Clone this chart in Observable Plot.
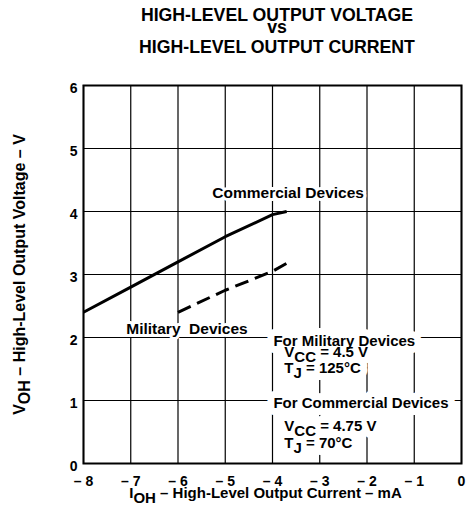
<!DOCTYPE html>
<html><head><meta charset="utf-8">
<script src="https://cdn.jsdelivr.net/npm/d3@7"></script>
<script src="https://cdn.jsdelivr.net/npm/@observablehq/plot@0.6"></script>
<style>
body{margin:0;background:#fff;font-family:"Liberation Sans",Arial,sans-serif;}
#title{position:relative;width:474px;height:70px;}
.t{position:absolute;left:80px;width:394px;text-align:center;font-weight:bold;font-size:17.7px;line-height:17px;white-space:nowrap;}
#chart svg{display:block;}
</style></head><body>
<div id="title">
  <div class="t" style="top:6.5px">HIGH-LEVEL OUTPUT VOLTAGE</div>
  <div class="t" style="top:18.5px">vs</div>
  <div class="t" style="top:38.5px">HIGH-LEVEL OUTPUT CURRENT</div>
</div>
<div id="chart"></div>
<script>
// ---- data ----
const xTicks = [-8, -7, -6, -5, -4, -3, -2, -1, 0];
const yTicks = [0, 1, 2, 3, 4, 5, 6];

const commercialX = [-8, -7, -6, -5, -4, -3.7];
const commercialY = [2.4, 2.8, 3.2, 3.6, 3.95, 4.0];

const militaryX = [-6, -5, -4, -3.65];
const militaryY = [2.4, 2.75, 3.05, 3.2];

const curveLabels = ["Commercial Devices", "Military\u00a0\u00a0Devices"];
const curveLabelX = [-3.67, -5.81];
const curveLabelY = [4.30, 2.14];

const noteLines = ["For Military Devices", "V_{CC} = 4.5 V", "T_{J} = 125°C",
                   "For Commercial Devices", "V_{CC} = 4.75 V", "T_{J} = 70°C"];
const noteX = [-3.98, -3.75, -3.75, -3.98, -3.75, -3.75];
const noteY = [1.94, 1.76, 1.51, 0.95, 0.59, 0.33];

const xLabel = "I_{OH} – High-Level Output Current – mA";
const yLabel = "V_{OH} – High-Level Output Voltage – V";

// ---- tables ----
const commercial = commercialX.map((x, i) => ({x, y: commercialY[i]}));
const military = militaryX.map((x, i) => ({x, y: militaryY[i]}));
const curveLab = curveLabels.map((t, i) => ({t, x: curveLabelX[i], y: curveLabelY[i]}));
const notes = noteLines.map((t, i) => ({t, x: noteX[i], y: noteY[i]}));

const xMin = xTicks[0], xMax = xTicks[xTicks.length - 1];
const yMin = yTicks[0], yMax = yTicks[yTicks.length - 1];
// grid lines as two-point polylines built from the tick arrays
const gridV = xTicks.flatMap(x => [{x, y: yMin, k: "v" + x}, {x, y: yMax, k: "v" + x}]);
const gridH = yTicks.flatMap(y => [{x: xMin, y, k: "h" + y}, {x: xMax, y, k: "h" + y}]);

const fmtX = d => d === 0 ? "0" : "\u2013 " + Math.abs(d);
const fmtY = d => String(d);

const plot = Plot.plot({
  width: 474, height: 445,
  marginTop: 15, marginBottom: 52, marginLeft: 83, marginRight: 13,
  style: {fontFamily: "'Liberation Sans', Arial, sans-serif", fontWeight: "bold", fontSize: "13px", color: "black", background: "white"},
  x: {domain: [xMin, xMax]},
  y: {domain: [yMin, yMax]},
  marks: [
    Plot.axisX(xTicks, {tickSize: 0, tickPadding: 13, tickFormat: fmtX, fontSize: 14, label: null}),
    Plot.axisY(yTicks, {tickSize: 0, tickPadding: 6, tickFormat: fmtY, fontSize: 14, label: null, dy: 3}),
    Plot.line(gridV, {x: "x", y: "y", z: "k", stroke: "black", strokeWidth: 1.2}),
    Plot.line(gridH, {x: "x", y: "y", z: "k", stroke: "black", strokeWidth: 1.2}),
    Plot.line(commercial, {x: "x", y: "y", stroke: "black", strokeWidth: 3, strokeLinecap: "butt"}),
    Plot.line(military, {x: "x", y: "y", stroke: "black", strokeWidth: 3, strokeDasharray: "14,7", strokeLinecap: "butt"}),
    // white halos first, then text on top
    Plot.text(curveLab, {x: "x", y: "y", text: "t", fontSize: 15.5, fill: "white", stroke: "white", strokeWidth: 6}),
    Plot.text(notes, {x: "x", y: "y", text: "t", textAnchor: "start", fontSize: 15, fill: "white", stroke: "white", strokeWidth: 14}),
    Plot.text(curveLab, {x: "x", y: "y", text: "t", fontSize: 15.5, fill: "black"}),
    Plot.text(notes, {x: "x", y: "y", text: "t", textAnchor: "start", fontSize: 15, fill: "black"}),
    Plot.frame({stroke: "black", strokeWidth: 2}),
    Plot.text([xLabel], {frameAnchor: "bottom", lineAnchor: "middle", dy: 30, dx: -7, fontSize: 15, fill: "black"}),
    Plot.text([yLabel], {frameAnchor: "left", textAnchor: "middle", lineAnchor: "middle", dx: -64, rotate: -90, fontSize: 16, fill: "black"})
  ]
});
document.getElementById("chart").appendChild(plot);

// subscripts: turn "_{..}" into lowered tspans
d3.select(plot).selectAll("text").each(function() {
  const el = this;
  if (el.querySelector("tspan")) return;
  const s = el.textContent;
  if (!s.includes("_{")) return;
  el.textContent = "";
  const parts = s.split(/(_\{[^}]*\})/);
  let shifted = false;
  for (const p of parts) {
    if (!p) continue;
    const ts = document.createElementNS("http://www.w3.org/2000/svg", "tspan");
    if (p.startsWith("_{")) {
      ts.textContent = p.slice(2, -1);
      ts.setAttribute("dy", "5");
      shifted = true;
    } else {
      ts.textContent = p;
      if (shifted) { ts.setAttribute("dy", "-5"); shifted = false; }
    }
    el.appendChild(ts);
  }
});
</script>
</body></html>
